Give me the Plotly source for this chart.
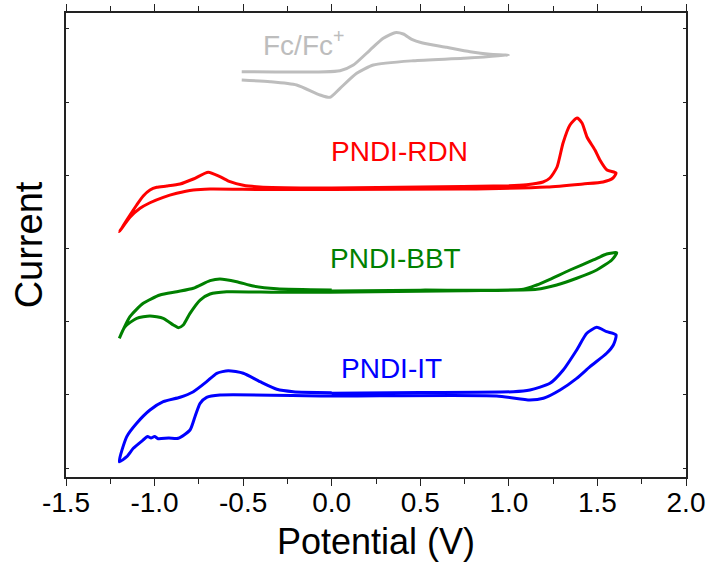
import plotly.graph_objects as go

# Potential (V) and current (arbitrary units, offset curves)
red_v = [0.0, 0.5, 1.0, 1.10, 1.193, 1.232, 1.272, 1.306, 1.345, 1.385, 1.413, 1.441, 1.486, 1.514, 1.554, 1.605,
         1.588, 1.532, 1.419, 1.215, 0.741, -0.01,
         -0.4, -0.687, -0.781, -0.875, -0.951, -1.026, -1.082, -1.139, -1.199,
         -1.157, -1.101, -1.064, -1.026, -0.988, -0.931, -0.856, -0.781, -0.697, -0.631, -0.574, -0.499, -0.405, -0.123, 0.0]
red_i = [3.825, 3.84, 3.855, 3.87, 3.907, 3.962, 4.112, 4.440, 4.686, 4.781, 4.713, 4.522, 4.344, 4.208, 4.071, 4.030,
         3.962, 3.907, 3.880, 3.839, 3.811, 3.805,
         3.805, 3.811, 3.798, 3.753, 3.698, 3.624, 3.548, 3.425, 3.228,
         3.388, 3.593, 3.716, 3.798, 3.835, 3.852, 3.880, 3.948, 4.040, 3.980, 3.911, 3.862, 3.839, 3.825, 3.825]

green_v = [0.0, 0.5, 1.082, 1.157, 1.232, 1.345, 1.477, 1.552, 1.609,
           1.581, 1.496, 1.383, 1.270, 1.157, 0.743, -0.01,
           -0.31, -0.593, -0.687, -0.743, -0.800, -0.838, -0.866, -0.894, -0.951, -1.026, -1.101, -1.167, -1.199,
           -1.139, -1.064, -0.970, -0.875, -0.781, -0.687, -0.631, -0.536, -0.443, -0.310, 0.0]
green_i = [2.418, 2.43, 2.441, 2.500, 2.578, 2.705, 2.842, 2.923, 2.941,
           2.842, 2.705, 2.592, 2.500, 2.441, 2.422, 2.400,
           2.400, 2.408, 2.377, 2.295, 2.113, 1.954, 1.917, 1.954, 2.045, 2.077, 2.045, 1.930, 1.772,
           2.067, 2.250, 2.363, 2.408, 2.455, 2.559, 2.582, 2.545, 2.486, 2.449, 2.432]

blue_v = [0.0, 0.5, 1.025, 1.119, 1.232, 1.307, 1.383, 1.440, 1.496, 1.552, 1.605,
          1.590, 1.552, 1.458, 1.383, 1.289, 1.195, 1.119, 0.931, -0.01,
          -0.631, -0.706, -0.743, -0.772, -0.800, -0.866, -0.92, -0.98, -1.00, -1.02, -1.04, -1.064, -1.120, -1.157, -1.199,
          -1.157, -1.101, -1.026, -0.951, -0.856, -0.781, -0.706, -0.649, -0.584, -0.499, -0.405, -0.310, -0.217, 0.0]
blue_i = [1.020, 1.03, 1.042, 1.066, 1.157, 1.339, 1.612, 1.840, 1.922, 1.862, 1.817,
          1.680, 1.567, 1.384, 1.225, 1.066, 0.952, 0.929, 0.984, 0.984,
          0.997, 0.966, 0.884, 0.701, 0.519, 0.406, 0.41, 0.40, 0.43, 0.41, 0.43, 0.383, 0.269, 0.154, 0.086,
          0.428, 0.611, 0.792, 0.906, 0.966, 1.042, 1.179, 1.294, 1.329, 1.294, 1.179, 1.075, 1.042, 1.029]

fc_v = [-0.508, 0.047, 0.122, 0.216, 0.291, 0.357, 0.404, 0.452, 0.508, 0.649, 0.781, 0.894, 0.997,
        0.743, 0.461, 0.235, 0.141, 0.047, -0.010, -0.066, -0.198, -0.348, -0.508]
fc_i = [5.414, 5.428, 5.505, 5.710, 5.870, 5.947, 5.929, 5.857, 5.810, 5.747, 5.687, 5.652, 5.638,
        5.597, 5.564, 5.505, 5.392, 5.187, 5.064, 5.096, 5.232, 5.277, 5.301]

x_tickvals = [-1.5, -1.0, -0.5, 0.0, 0.5, 1.0, 1.5, 2.0]
x_ticktext = ["-1.5", "-1.0", "-0.5", "0.0", "0.5", "1.0", "1.5", "2.0"]

series = [
    ("Fc/Fc<sup>+</sup>", fc_v, fc_i, "#bdbdbd", -0.16, 5.80, "x2"),
    ("PNDI-RDN", red_v, red_i, "#ff0000", 0.38, 4.33, "x"),
    ("PNDI-BBT", green_v, green_i, "#008000", 0.36, 2.86, "x"),
    ("PNDI-IT", blue_v, blue_i, "#0000ff", 0.34, 1.36, "x"),
]

FONT = "Liberation Sans, Arial, sans-serif"
fig = go.Figure()
for name, v, i, col, lx, ly, xa in series:
    fig.add_trace(go.Scatter(x=v, y=i, mode="lines", name=name, xaxis=xa, yaxis="y",
                             line=dict(color=col, width=3, shape="spline", smoothing=0.6),
                             showlegend=False))
    fig.add_annotation(x=lx, y=ly, xref="x", yref="y", text=name, showarrow=False,
                       font=dict(family=FONT, size=28, color=col),
                       xanchor="center", yanchor="middle")

AX = "#222"
fig.update_layout(
    width=709, height=562,
    margin=dict(l=66, r=23, t=13, b=85),
    paper_bgcolor="white", plot_bgcolor="white",
    font=dict(family=FONT, color="black"),
    xaxis=dict(range=[-1.5, 2.0], tickvals=x_tickvals, ticktext=x_ticktext, automargin=False,
               showgrid=False, zeroline=False, showline=True, linecolor=AX, linewidth=1.5,
               mirror=True, ticks="",
               tickfont=dict(size=28, family=FONT, color="black"),
               title=dict(text="Potential (V)", font=dict(size=36, family=FONT, color="black"), standoff=12)),
    xaxis2=dict(range=[-1.5, 2.0], overlaying="x", anchor="y", side="bottom", automargin=False,
                tickvals=x_tickvals, showticklabels=False,
                showgrid=False, zeroline=False, showline=True, linecolor=AX, linewidth=1.5,
                mirror="allticks", ticks="outside", ticklen=7, tickwidth=1.2, tickcolor=AX,
                minor=dict(dtick=0.25, tick0=-1.5, ticks="outside", ticklen=5, tickwidth=1.2, tickcolor=AX)),
    yaxis=dict(range=[-0.123, 6.216], dtick=1, tick0=0, automargin=False,
               showgrid=False, zeroline=False, showline=True, linecolor=AX, linewidth=1.5,
               mirror="ticks", ticks="inside", ticklen=3, tickwidth=1.2, tickcolor=AX,
               showticklabels=False,
               title=dict(text="Current", font=dict(size=38, family=FONT, color="black"), standoff=10)),
)

fig.write_html("out.html")
